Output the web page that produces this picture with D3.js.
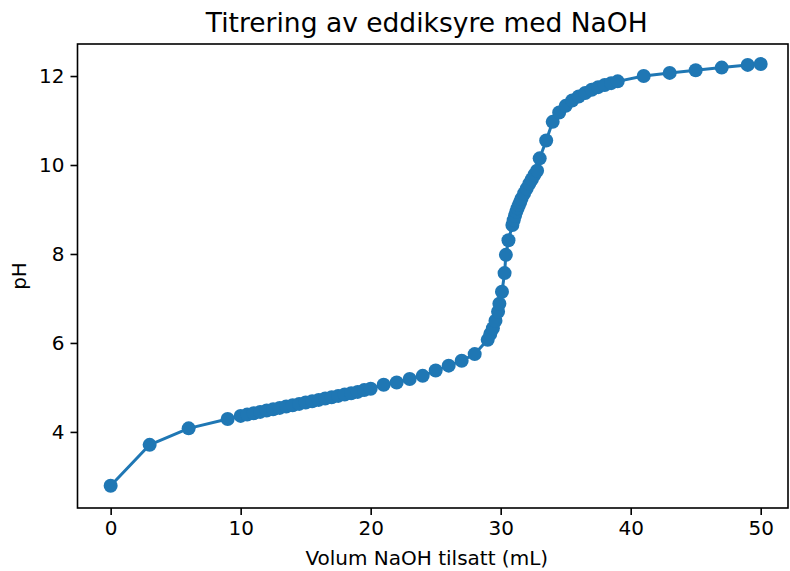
<!DOCTYPE html>
<html><head><meta charset="utf-8">
<script src="https://cdn.jsdelivr.net/npm/d3@7"></script>
<style>body{margin:0;background:#fff}svg{display:block}text{font-family:"DejaVu Sans",sans-serif;fill:#000}</style>
</head><body><svg id="c" width="790" height="571"></svg>
<script>
const volume = [0,3,6,9,
  10,10.5,11,11.5,12,12.5,13,13.5,14,14.5,15,15.5,16,16.5,17,17.5,18,18.5,19,19.5,20,
  21,22,23,24,25,26,27,28,
  29,29.2,29.4,29.6,29.8,29.9,30.1,30.3,30.4,30.6,
  30.9,31,31.1,31.2,31.3,31.4,31.5,31.6,31.8,32,32.2,32.4,32.6,32.8,
  33,33.5,34,34.5,35,35.5,36,36.5,37,37.5,38,38.5,39,
  41,43,45,47,49,50];
const pH = [2.79,3.71,4.08,4.29,
  4.36,4.39,4.42,4.45,4.48,4.51,4.54,4.57,4.60,4.63,4.66,4.69,4.72,4.75,4.78,4.81,4.84,4.87,4.90,4.94,4.97,
  5.06,5.11,5.19,5.26,5.38,5.49,5.60,5.75,
  6.07,6.20,6.33,6.50,6.70,6.88,7.15,7.57,7.98,8.31,
  8.65,8.76,8.86,8.95,9.03,9.10,9.17,9.24,9.36,9.47,9.58,9.68,9.78,9.87,
  10.15,10.55,10.97,11.18,11.33,11.45,11.54,11.62,11.69,11.75,11.80,11.84,11.88,
  12.00,12.07,12.13,12.19,12.25,12.27];
const xTicks = [0,10,20,30,40,50];
const yTicks = [4,6,8,10,12];
const title = "Titrering av eddiksyre med NaOH";
const xLabel = "Volum NaOH tilsatt (mL)";
const yLabel = "pH";

const L=77.5, R=788, T=44, B=508;
const color="#1f77b4";
const svg=d3.select("#c");
const x=d3.scaleLinear().domain([-2.55,52.1]).range([L,R]);
const y=d3.scaleLinear().domain([2.29,12.72]).range([B,T]);
const data=volume.map((v,i)=>({v,p:pH[i]}));

svg.append("path").datum(data)
  .attr("d",d3.line().x(d=>x(d.v)).y(d=>y(d.p)))
  .attr("fill","none").attr("stroke",color).attr("stroke-width",3).attr("stroke-linejoin","round");
svg.append("g").selectAll("circle").data(data).join("circle")
  .attr("cx",d=>x(d.v)).attr("cy",d=>y(d.p)).attr("r",7).attr("fill",color);

const xa=svg.append("g").attr("transform",`translate(0,${B})`)
  .call(d3.axisBottom(x).tickValues(xTicks).tickFormat(d3.format("d")).tickSizeInner(7).tickSizeOuter(0).tickPadding(6));
const ya=svg.append("g").attr("transform",`translate(${L},0)`)
  .call(d3.axisLeft(y).tickValues(yTicks).tickFormat(d3.format("d")).tickSizeInner(7).tickSizeOuter(0).tickPadding(6));
[xa,ya].forEach(a=>{a.select(".domain").remove();
  a.selectAll(".tick line").attr("stroke","#000").attr("stroke-width",1.6);
  a.selectAll(".tick text").attr("font-size",20).attr("font-family","DejaVu Sans").attr("fill","#000");});
svg.append("rect").attr("x",L).attr("y",T).attr("width",R-L).attr("height",B-T)
  .attr("fill","none").attr("stroke","#000").attr("stroke-width",1.6);

svg.append("text").attr("x",(L+R)/2-6).attr("y",32).attr("text-anchor","middle").attr("font-size",26.5).text(title);
svg.append("text").attr("x",(L+R)/2-6).attr("y",565).attr("text-anchor","middle").attr("font-size",20).text(xLabel);
svg.append("text").attr("transform",`translate(26,${(T+B)/2}) rotate(-90)`).attr("text-anchor","middle").attr("font-size",20).text(yLabel);
</script></body></html>
